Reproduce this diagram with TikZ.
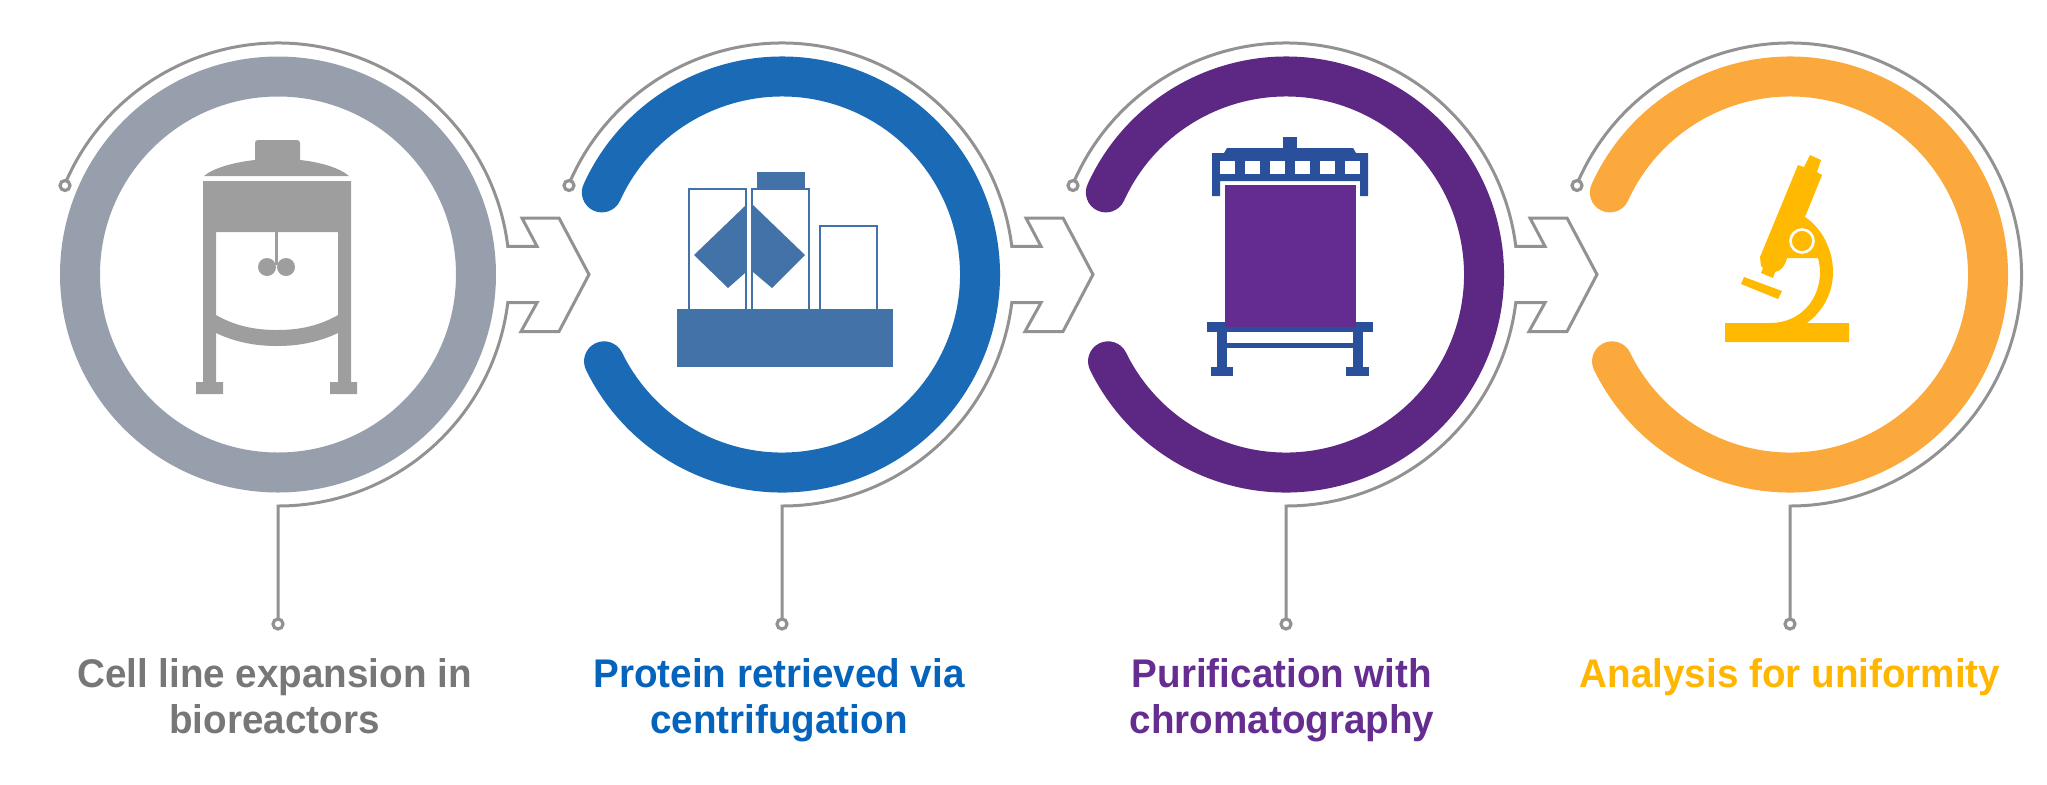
\documentclass[tikz,border=0pt]{standalone}
\usepackage{fontspec}
\setmainfont{Liberation Sans}
\newfontfamily\labfont[FakeStretch=0.965]{Liberation Sans}
\definecolor{wire}{HTML}{929292}
\definecolor{ringgray}{HTML}{979FAC}
\definecolor{ringblue}{HTML}{1B6AB5}
\definecolor{ringpurple}{HTML}{5C2883}
\definecolor{ringorange}{HTML}{FBA83C}
\definecolor{icongray}{HTML}{9E9E9E}
\definecolor{iconblue}{HTML}{4272A8}
\definecolor{framblue}{HTML}{2A4F9B}
\definecolor{iconpurple}{HTML}{642B91}
\definecolor{iconyellow}{HTML}{FFB900}
\definecolor{txtgray}{HTML}{777777}
\definecolor{txtblue}{HTML}{0563BB}
\definecolor{txtpurple}{HTML}{662D91}
\definecolor{txtorange}{HTML}{FFB600}
\tikzset{
  wireline/.style={draw=wire,line width=1.5pt,line join=miter},
  enddot/.style={draw=wire,line width=1.6pt,fill=white},
  ringarc/.style={line width=20pt,line cap=round},
  label/.style={font=\labfont\bfseries\fontsize{20pt}{23pt}\selectfont,align=center,inner sep=0pt,anchor=base},
}
\begin{document}
\begin{tikzpicture}[x=0.5pt,y=-0.5pt]
\useasboundingbox (0,0) rectangle (2047,784);
% rings
\draw[ringgray,line width=20pt] (278,274.5) circle[radius=198];
\foreach \cx/\col in {782/ringblue,1286/ringpurple,1790/ringorange}{
  \begin{scope}[shift={(\cx,274.5)}]
    \draw[\col,ringarc] (-155.5:198) arc[start angle=-155.5,end angle=154,radius=198];
  \end{scope}
}
% wires with arrows
\foreach \cx in {278,782,1286}{
  \begin{scope}[shift={(\cx,274.5)}]
    \coordinate (dotA) at (-213,-89);
    \coordinate (dotB) at (0,349.5);
    \draw[wireline] (-157.3:231.5) arc[start angle=-157.3,end angle=-7,radius=231.5]
      -- (259,-28.2) -- (244,-56.5) -- (281,-56.5) -- (311,0) -- (281,57) -- (243,57) -- (259,28.2)
      -- (7:231.5) arc[start angle=7,end angle=90,radius=231.5] -- (dotB);
    \draw[enddot] (dotA) circle[radius=5];
    \draw[enddot] (dotB) circle[radius=5];
  \end{scope}
}
\begin{scope}[shift={(1790,274.5)}]
  \coordinate (dotC) at (-213,-89);
  \coordinate (dotD) at (0,349.5);
  \draw[wireline] (-157.3:231.5) arc[start angle=-157.3,end angle=90,radius=231.5] -- (dotD);
  \draw[enddot] (dotC) circle[radius=5];
  \draw[enddot] (dotD) circle[radius=5];
\end{scope}
% bioreactor
\fill[icongray] (255,143) .. controls (255,141) and (256,140) .. (258,140) -- (297,140) .. controls (299,140) and (300,141) .. (300,143) -- (300,160)
  .. controls (320,162) and (340,168) .. (349,176) -- (204,176) .. controls (213,168) and (235,162) .. (255,160) -- cycle;
\fill[icongray] (203,181) -- (351,181) -- (351,382) -- (357,382) -- (357,394) -- (330,394) -- (330,382) -- (338,382) -- (338,232) -- (216,232) -- (216,382) -- (223,382) -- (223,394) -- (196,394) -- (196,382) -- (203,382) -- cycle;
\fill[icongray] (216,315) .. controls (235,326) and (255,330) .. (277,330) .. controls (299,330) and (319,326) .. (338,315) -- (338,333) .. controls (319,342) and (299,346) .. (277,346) .. controls (255,346) and (235,342) .. (216,333) -- cycle;
\fill[icongray] (275,232) rectangle (278,265);
\fill[icongray] (267,267) circle[radius=9] (286,267) circle[radius=9];
% centrifuge
\fill[iconblue] (677,309) rectangle (893,367);
\fill[iconblue] (757,172) rectangle (805,188);
\draw[iconblue,line width=1.4pt] (689,309) -- (689,189) -- (746,189) -- (746,309);
\draw[iconblue,line width=1.4pt] (752,309) -- (752,189) -- (809,189) -- (809,309);
\draw[iconblue,line width=1.4pt] (820,309) -- (820,226) -- (877,226) -- (877,309);
\fill[iconblue] (745,206) -- (694,255) -- (728,288) -- (745,273) -- cycle;
\fill[iconblue] (753,205) -- (805,255) -- (772,288) -- (753,272) -- cycle;
% chromatography
\fill[framblue] (1283,137) rectangle (1297,148);
\fill[framblue] (1212,153) -- (1224,153) -- (1227,148) -- (1353,148) -- (1356,153) -- (1368,153) -- (1368,196) -- (1360,196) -- (1360,181) -- (1220,181) -- (1220,196) -- (1212,196) -- cycle;
\foreach \wx in {1220,1245,1270,1295,1320,1345}{
  \fill[white] (\wx,161) rectangle ++(15,13);
}
\fill[framblue] (1207,322) rectangle (1373,332);
\fill[framblue] (1217,332) rectangle (1227,367);
\fill[framblue] (1353,332) rectangle (1363,367);
\fill[framblue] (1227,343) rectangle (1353,348);
\fill[framblue] (1211,367) rectangle (1233,376);
\fill[framblue] (1346,367) rectangle (1369,376);
\fill[iconpurple] (1225,185) rectangle (1356,327);
% microscope
\fill[iconyellow] (1798,165) -- (1804,167) -- (1810,155) -- (1821,160) -- (1817,172) -- (1822,175) -- (1805,217)
  .. controls (1822,228) and (1833,250) .. (1833,272) .. controls (1833,294) and (1822,312) .. (1807,323)
  -- (1849,323) -- (1849,342) -- (1725,342) -- (1725,323) -- (1770,323)
  .. controls (1800,323) and (1820,300) .. (1820,272) .. controls (1820,267) and (1819,262) .. (1818,258)
  -- (1787,258) .. controls (1785,266) and (1781,271) .. (1775,272) -- (1773,278) -- (1761,273) -- (1763,268) -- (1761,266) -- (1760,257) -- cycle;
\fill[iconyellow] (1744,277) -- (1782,291) -- (1778,299) -- (1741,284) -- cycle;
\draw[white,line width=1.3pt,fill=iconyellow] (1802,241) circle[radius=11.5];
% labels
\node[label,txtgray] (labA) at (274.5,733) {Cell line expansion in\\bioreactors};
\node[label,txtblue] (labB) at (779,733) {Protein retrieved via\\centrifugation};
\node[label,txtpurple] (labC) at (1282,733) {Purification with\\chromatography};
\node[label,txtorange] (labD) at (1790,687) {Analysis for uniformity};
\end{tikzpicture}
\end{document}
